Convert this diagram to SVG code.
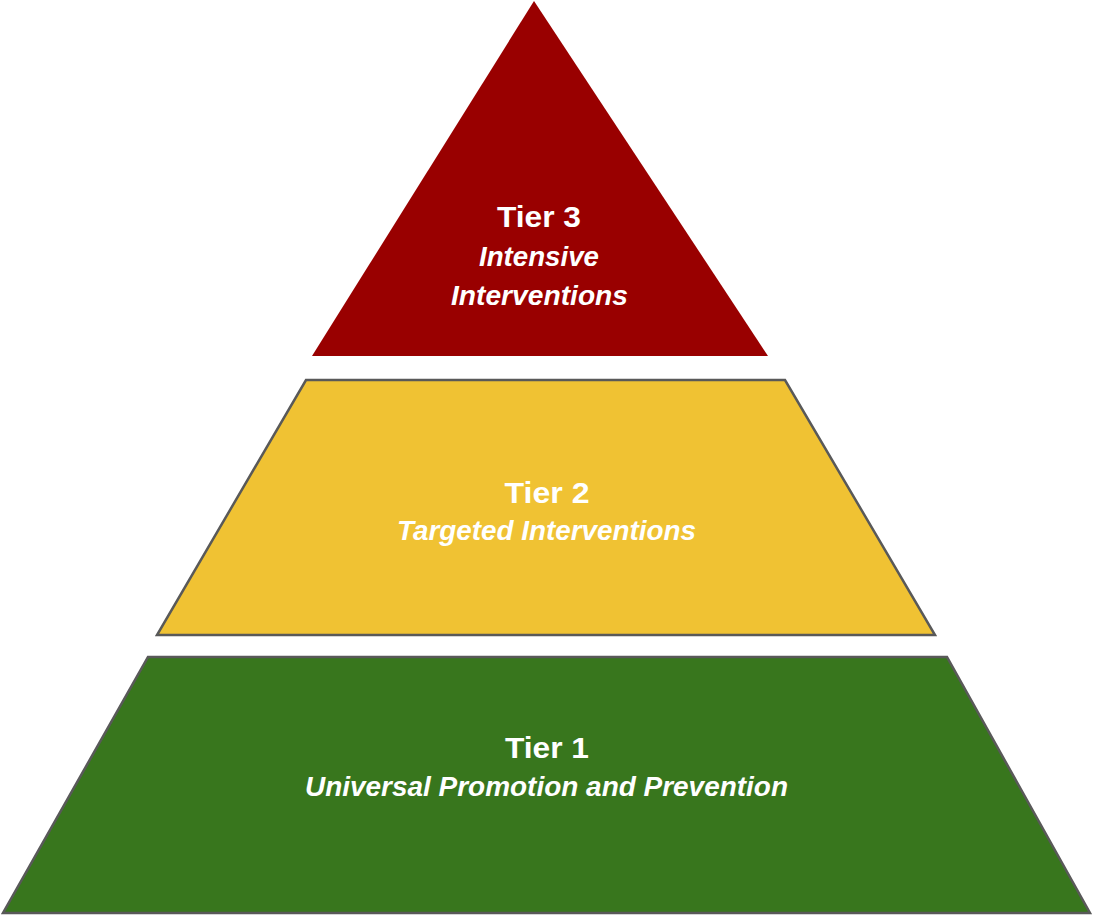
<svg xmlns="http://www.w3.org/2000/svg" width="1094" height="917" viewBox="0 0 1094 917">
<style>
.t{font-family:"Liberation Sans",Arial,sans-serif;fill:#ffffff;font-weight:bold;text-anchor:middle}
.h{font-size:30px}
.s{font-size:27px;font-style:italic}
.edge{stroke:#595959;stroke-width:2.5;stroke-linejoin:miter}
</style>
<rect width="1094" height="917" fill="#ffffff"/>
<g id="tier3">
<polygon points="534,1 768,356 312,356" fill="#990000"/>
<text class="t h" x="539" y="227" textLength="84" lengthAdjust="spacingAndGlyphs">Tier 3</text>
<text class="t s" x="539" y="266" textLength="120" lengthAdjust="spacingAndGlyphs">Intensive</text>
<text class="t s" x="539.5" y="305" textLength="177" lengthAdjust="spacingAndGlyphs">Interventions</text>
</g>
<g id="tier2">
<polygon class="edge" points="306,380 785,380 935,635 157,635" fill="#F0C233"/>
<text class="t h" x="547" y="503" textLength="85" lengthAdjust="spacingAndGlyphs">Tier 2</text>
<text class="t s" x="546.5" y="540" textLength="299" lengthAdjust="spacingAndGlyphs">Targeted Interventions</text>
</g>
<g id="tier1">
<polygon class="edge" points="148,657 947,657 1090,913 3,913" fill="#38761D"/>
<text class="t h" x="547" y="758" textLength="84" lengthAdjust="spacingAndGlyphs">Tier 1</text>
<text class="t s" x="546.5" y="796" textLength="483" lengthAdjust="spacingAndGlyphs">Universal Promotion and Prevention</text>
</g>
<g id="connectors"></g>
</svg>
